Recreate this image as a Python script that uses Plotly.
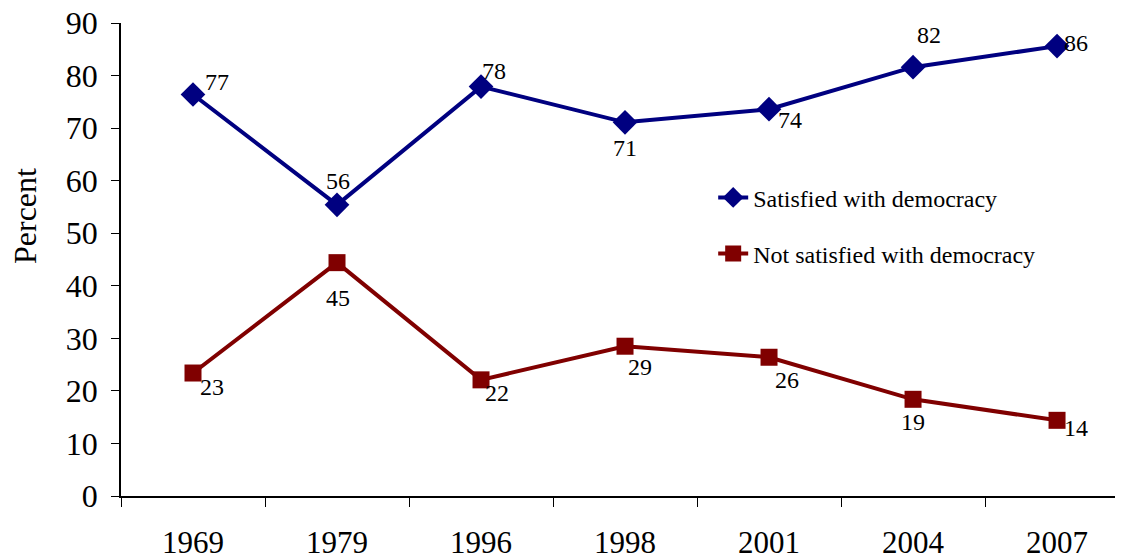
import plotly.graph_objects as go

years = ["1969", "1979", "1996", "1998", "2001", "2004", "2007"]
satisfied = [76.4, 55.4, 77.9, 71.1, 73.6, 81.6, 85.6]
not_satisfied = [23.4, 44.4, 22.1, 28.5, 26.4, 18.4, 14.4]
satisfied_labels = ["77", "56", "78", "71", "74", "82", "86"]
not_satisfied_labels = ["23", "45", "22", "29", "26", "19", "14"]
y_ticks = [0, 10, 20, 30, 40, 50, 60, 70, 80, 90]

# label offsets (pixels) relative to points
sat_offsets = [(24, 12), (1, 24), (13, 16), (0, -26), (21, -11), (16, 32), (19, 3)]
not_offsets = [(19, -14), (1, -35), (16, -13), (15, -21), (18, -23), (0, -23), (19, -8)]

FONT = "Liberation Serif, Times New Roman, serif"
BLUE = "#000080"
RED = "#800000"

fig = go.Figure()
fig.add_trace(go.Scatter(
    x=years, y=satisfied, mode="lines+markers", name="Satisfied with democracy",
    line=dict(color=BLUE, width=4), marker=dict(symbol="diamond", size=19, color=BLUE),
    legendgroup="a",
))
fig.add_trace(go.Scatter(
    x=years, y=not_satisfied, mode="lines+markers", name="Not satisfied with democracy",
    line=dict(color=RED, width=4), marker=dict(symbol="square", size=17, color=RED),
    legendgroup="b",
))

# category axes: annotations use the category serial number
for i, (v, lab, (dx, dy)) in enumerate(zip(satisfied, satisfied_labels, sat_offsets)):
    fig.add_annotation(x=i, y=v, text=lab, showarrow=False, xshift=dx, yshift=dy,
                       font=dict(family=FONT, size=24, color="black"))
for i, (v, lab, (dx, dy)) in enumerate(zip(not_satisfied, not_satisfied_labels, not_offsets)):
    fig.add_annotation(x=i, y=v, text=lab, showarrow=False, xshift=dx, yshift=dy,
                       font=dict(family=FONT, size=24, color="black"))

fig.add_annotation(xref="paper", yref="paper", x=-0.0958, y=0.592, text="Percent",
                   textangle=-90, showarrow=False, xanchor="center", yanchor="middle",
                   font=dict(family=FONT, size=32, color="black"))

# page body has an 8px default margin, so the figure is 8px smaller than the window
fig.update_layout(
    width=1115, height=551,
    margin=dict(l=113, r=0, t=15, b=63),
    paper_bgcolor="white", plot_bgcolor="white",
    font=dict(family=FONT, color="black"),
    showlegend=True,
    legend=dict(x=0.591, y=0.678, xanchor="left", yanchor="top",
                font=dict(family=FONT, size=24, color="black"),
                tracegroupgap=22, traceorder="grouped", bgcolor="rgba(0,0,0,0)"),
    xaxis=dict(type="category", range=[-0.5, 6.458], tickson="boundaries",
               ticks="outside", ticklen=9, tickcolor="black", tickwidth=1,
               showline=True, linecolor="black", linewidth=1.5, showgrid=False,
               zeroline=False, tickfont=dict(family=FONT, size=31, color="black"),
               ticklabelstandoff=18, automargin=False),
    yaxis=dict(range=[0, 90], tickvals=y_ticks, ticks="outside", ticklen=8,
               tickcolor="black", tickwidth=1, showline=True, linecolor="black",
               linewidth=1.5, showgrid=False, zeroline=False,
               tickfont=dict(family=FONT, size=32, color="black"),
               ticklabelstandoff=7, ticklabeloverflow="allow", automargin=False),
)

fig.write_html("out.html")
